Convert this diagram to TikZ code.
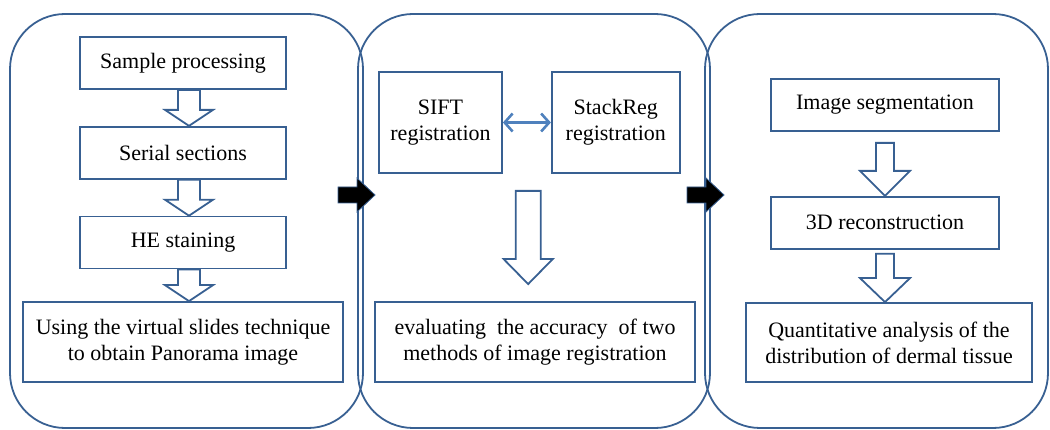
\documentclass[tikz,border=0pt]{standalone}
\usepackage{fontspec}
\setmainfont{Liberation Serif}
\usetikzlibrary{arrows.meta,positioning,calc}
\definecolor{frameblue}{RGB}{56,96,146}
\definecolor{linkblue}{RGB}{79,129,189}
\tikzstyle{panel}=[draw=frameblue,line width=1.8pt,rounded corners=55pt,inner sep=0pt]
\tikzstyle{stage}=[draw=frameblue,line width=1.8pt,inner sep=0pt,align=center,font=\fontsize{22}{26}\selectfont]
\tikzstyle{hollow}=[draw=frameblue,line width=1.8pt,fill=white,line join=miter]
\tikzstyle{passon}=[draw=frameblue,line width=0.8pt,fill=black]
\tikzstyle{duo}=[draw=linkblue,line width=2.6pt,{Straight Barb[length=8pt,width=18pt]}-{Straight Barb[length=8pt,width=18pt]}]

% outlined down arrow: start, tip, shaft half width, head half width, head length
\newcommand{\hollowdown}[5]{%
  \draw[hollow] let \p1=(#1), \p2=(#2) in
    (\x2-#3,\y1) -- (\x2-#3,\y2+#5) -- (\x2-#4,\y2+#5) -- (\x2,\y2)
    -- (\x2+#4,\y2+#5) -- (\x2+#3,\y2+#5) -- (\x2+#3,\y1) -- cycle;}
% solid arrow from one panel into the next
\newcommand{\passon}[1]{%
  \draw[passon] (#1) ++(0,-8) -- ++(19,0) -- ++(0,-9) -- ++(18,17)
    -- ++(-18,17) -- ++(0,-9) -- ++(-19,0) -- cycle;}

\begin{document}
\begin{tikzpicture}[x=1pt,y=-1pt]
  \useasboundingbox (0,0) rectangle (1050,430);

  % the three panels
  \node[panel,minimum width=353pt,minimum height=414pt] (prep) at (186.5,221) {};
  \node[panel,minimum width=352pt,minimum height=414pt] (reg)  at (534,221) {};
  \node[panel,minimum width=343pt,minimum height=414pt] (ana)  at (876.5,221) {};

  % sample preparation
  \node[stage,minimum width=206pt,minimum height=52pt] (sp) at (183,63) {Sample processing};
  \node[stage,minimum width=206pt,minimum height=52pt] (ss) [below=36pt of sp] {Serial sections};
  \node[stage,minimum width=206pt,minimum height=52pt] (he) [below=36pt of ss] {HE staining};
  \node[stage,minimum width=320pt,minimum height=80pt] (vs) at (183,342)
    {Using the virtual slides technique\\to obtain Panorama image};

  \hollowdown{[xshift=6pt]sp.south}{[xshift=6pt]ss.north}{11pt}{24pt}{16pt}
  \hollowdown{[xshift=6pt]ss.south}{[xshift=6pt]he.north}{11pt}{24pt}{16pt}
  \hollowdown{[xshift=6pt]he.south}{[xshift=6pt]vs.north}{11pt}{24pt}{16pt}

  % registration
  \node[stage,minimum width=123pt,minimum height=101pt] (sift) at (440.5,122.5) {SIFT\\registration};
  \node[stage,minimum width=128pt,minimum height=101pt] (stack) [right=48pt of sift] {StackReg\\registration};
  \node[stage,minimum width=320pt,minimum height=80pt] (eval) at (535,342)
    {evaluating\ \ the accuracy\ \ of two\\methods of image registration};

  \draw[duo] (sift) -- (stack);
  \coordinate (pair) at ($(sift.south)!0.5!(stack.south)$);
  \coordinate (evaltop) at (eval.north -| pair);
  \hollowdown{[yshift=-17pt]pair}{[yshift=17pt]evaltop}{12.5pt}{24.5pt}{25pt}

  % reconstruction and analysis
  \node[stage,minimum width=228pt,minimum height=52pt] (seg) at (885,105) {Image segmentation};
  \node[stage,minimum width=228pt,minimum height=52pt] (rec) [below=64pt of seg] {3D reconstruction};
  \node[stage,minimum width=286pt,minimum height=79pt] (quant) at (889,342.5)
    {Quantitative analysis of the\\distribution of dermal tissue};

  \coordinate (quanttop) at (quant.north -| rec);
  \hollowdown{[yshift=-11pt]seg.south}{rec.north}{9pt}{25pt}{25pt}
  \hollowdown{[yshift=-4pt]rec.south}{quanttop}{9pt}{25pt}{24pt}

  % hand over between panels
  \coordinate (pass1) at (338,195);
  \coordinate (pass2) at (687,195);
  \passon{pass1}
  \passon{pass2}
\end{tikzpicture}
\end{document}
